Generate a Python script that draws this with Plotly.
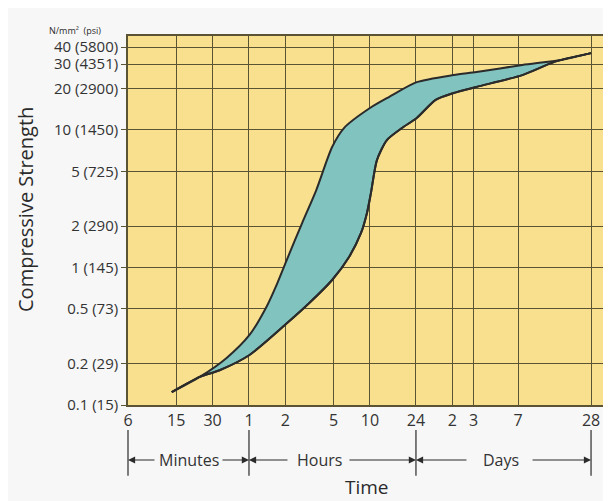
import math
import plotly.graph_objects as go

# ---- data ----
time_tick_minutes = [6, 15, 30, 60, 120, 300, 600, 1440, 2880, 4320, 10080, 40320]
time_tick_labels = ["6", "15", "30", "1", "2", "5", "10", "24", "2", "3", "7", "28"]
strength_ticks = [0.1, 0.2, 0.5, 1, 2, 5, 10, 20, 30, 40]
strength_tick_labels = ["0.1 (15)", "0.2 (29)", "0.5 (73)", "1 (145)", "2 (290)",
                        "5 (725)", "10 (1450)", "20 (2900)", "30 (4351)", "40 (5800)"]

upper_time = [13.8, 23.5, 39.2, 60.6, 83.6, 103, 124, 165, 216, 292, 366, 600, 860,
              1462, 2947, 4557, 10900, 22820, 40320]
upper_strength = [0.124, 0.160, 0.220, 0.323, 0.516, 0.770, 1.15, 2.1, 3.65, 7.50, 10.3,
                  14.4, 17.3, 22.2, 25.0, 26.3, 29.6, 32.2, 36.1]
lower_time = [13.8, 23.5, 34.3, 60.6, 124, 189, 292, 403, 506, 567, 611, 685, 828, 1100,
              1462, 2096, 2947, 4557, 10900, 20370, 40320]
lower_strength = [0.124, 0.160, 0.179, 0.231, 0.394, 0.551, 0.810, 1.19, 1.78, 2.49, 3.47,
                  6.03, 8.43, 10.3, 12.2, 16.5, 18.5, 20.5, 25.0, 31.3, 36.1]

period_bounds = [6, 60, 1440, 40320]
period_labels = ["Minutes", "Hours", "Days"]
period_label_pos = [19.0, 228.0, 7300.0]

# ---- style ----
paper_bg = "#f7f7f7"
plot_bg = "#f9e08f"
fill_col = "#80c3bf"
grid_col = "#5b5434"
ink = "#2b2b2b"
text_col = "#333333"
font_fam = "Open Sans"

x_range = [math.log10(6), 4.754]
y_range = [-1, 1.682]

line_style = dict(color=ink, width=2, shape="spline", smoothing=0.7)

fig = go.Figure()
fig.add_trace(go.Scatter(x=lower_time, y=lower_strength, mode="lines",
                         line=line_style, hoverinfo="skip", showlegend=False))
fig.add_trace(go.Scatter(x=upper_time, y=upper_strength, mode="lines",
                         line=line_style, fill="tonexty", fillcolor=fill_col,
                         hoverinfo="skip", showlegend=False))
fig.add_trace(go.Scatter(x=lower_time, y=lower_strength, mode="lines",
                         line=line_style, hoverinfo="skip", showlegend=False))

fig.update_xaxes(type="log", range=x_range, tickmode="array",
                 tickvals=time_tick_minutes, ticktext=time_tick_labels,
                 showgrid=True, gridcolor=grid_col, gridwidth=1.3,
                 showline=True, linecolor=grid_col, linewidth=1.6, mirror=True,
                 ticks="", tickfont=dict(family=font_fam, size=16, color=text_col),
                 zeroline=False)
fig.update_yaxes(type="log", range=y_range, tickmode="array",
                 tickvals=strength_ticks, ticktext=strength_tick_labels,
                 showgrid=True, gridcolor=grid_col, gridwidth=1.3,
                 showline=True, linecolor=grid_col, linewidth=1.6, mirror=True,
                 ticks="outside", ticklen=5, tickcolor=grid_col,
                 tickfont=dict(family=font_fam, size=15, color=text_col),
                 zeroline=False)

def xpaper(v):
    return (math.log10(v) - x_range[0]) / (x_range[1] - x_range[0])

shapes = []
for b in period_bounds:
    shapes.append(dict(type="line", xref="paper", yref="paper",
                       x0=xpaper(b), x1=xpaper(b), y0=-0.068, y1=-0.192,
                       line=dict(color=ink, width=1.2)))

annotations = []
arrow_y = -0.149
# arrows: (head time, pixel offset of tail)
arrow_specs = [(6, 28), (60, -28), (60, 40), (1440, -68), (1440, 52), (40320, -60)]
for head, off in arrow_specs:
    annotations.append(dict(xref="x", yref="paper", x=math.log10(head), y=arrow_y,
                            axref="pixel", ayref="pixel", ax=off, ay=0,
                            showarrow=True, arrowhead=2, arrowsize=1.3, arrowwidth=1.1,
                            arrowcolor=ink, standoff=0, startstandoff=0, text=""))
for lab, pos in zip(period_labels, period_label_pos):
    annotations.append(dict(xref="x", yref="paper", x=math.log10(pos), y=arrow_y,
                            text=lab, showarrow=False, yanchor="middle",
                            font=dict(family=font_fam, size=16, color=text_col)))

annotations.append(dict(xref="paper", yref="paper", x=0.497, y=-0.222,
                        text="Time", showarrow=False, yanchor="middle",
                        font=dict(family=font_fam, size=19, color=ink)))
annotations.append(dict(xref="paper", yref="paper", x=-0.213, y=0.53,
                        text="Compressive Strength", textangle=-90, showarrow=False,
                        xanchor="center", yanchor="middle",
                        font=dict(family=font_fam, size=20, color=ink)))
annotations.append(dict(xref="paper", yref="paper", x=-0.11, y=1.016,
                        text="N/mm²&nbsp;&nbsp;(psi)", showarrow=False,
                        xanchor="center", yanchor="middle",
                        font=dict(family=font_fam, size=9, color=ink)))

# page body adds an 8px margin, so the figure is sized to fit the 611x501 window
fig.update_layout(width=603, height=493,
                  margin=dict(l=120, r=0, t=28, b=96),
                  paper_bgcolor=paper_bg, plot_bgcolor=plot_bg,
                  shapes=shapes, annotations=annotations, showlegend=False)

fig.write_html("out.html")
